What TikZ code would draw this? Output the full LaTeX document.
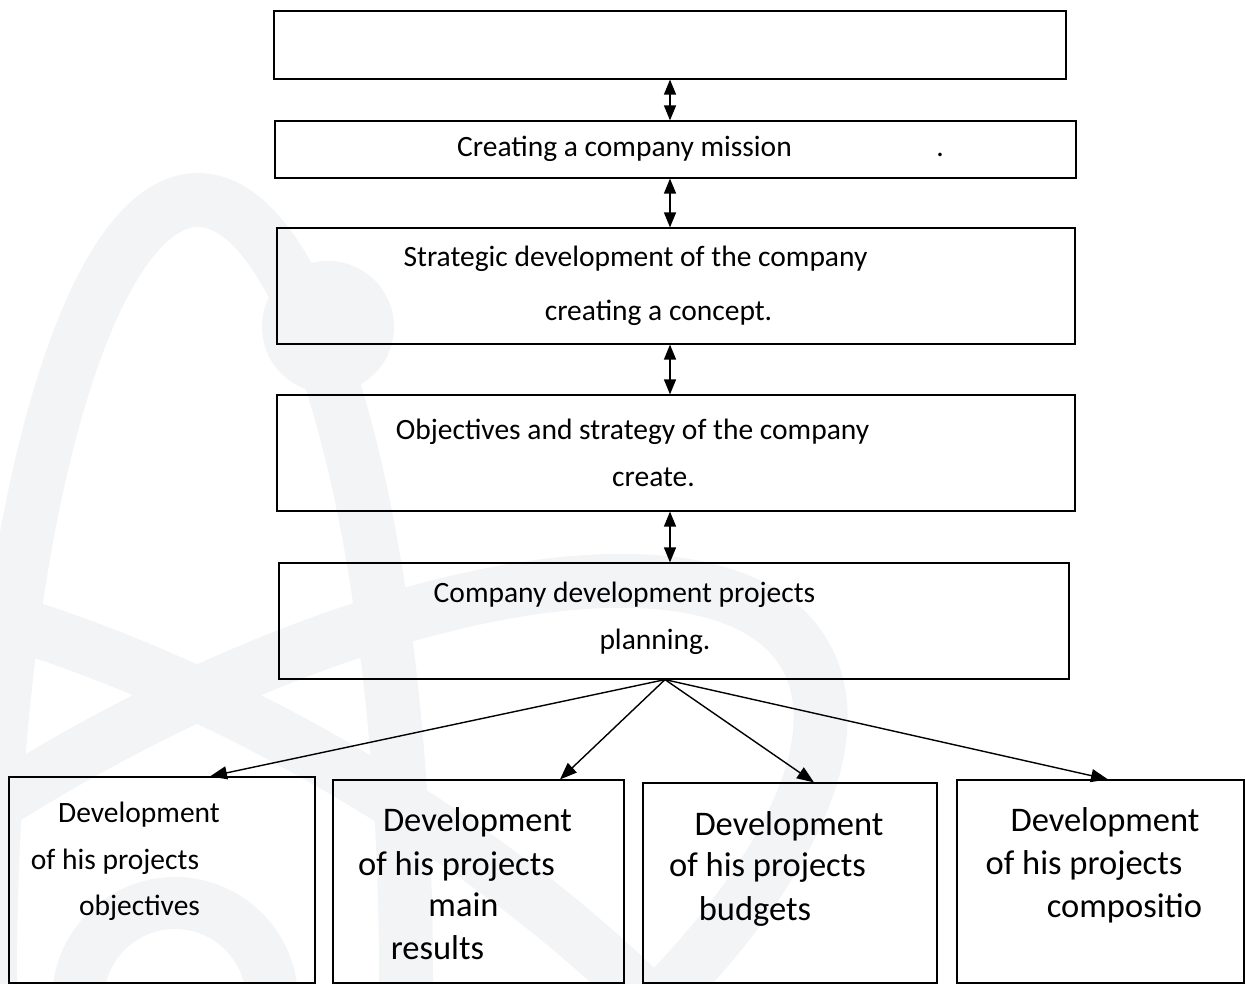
\documentclass[tikz,border=0pt]{standalone}
\usepackage{fontspec}
\setmainfont{Carlito}
\usetikzlibrary{arrows.meta}
\definecolor{wmark}{RGB}{243,244,246}
\begin{document}
\begin{tikzpicture}[x=1pt,y=-1pt,
  box/.style={draw=black, line width=1.2pt, rectangle, inner sep=0pt},
  txt/.style={anchor=base, inner sep=0pt, font=\fontsize{29.5}{35}\selectfont},
  btxt/.style={anchor=base, inner sep=0pt, font=\fontsize{34.5}{40}\selectfont},
  dbl/.style={line width=1.5pt, {Triangle[length=15pt,width=12pt]}-{Triangle[length=15pt,width=12pt]}},
  fanarr/.style={line width=1.4pt, -{Triangle[length=17pt,width=13pt]}},
  wm/.style={draw=wmark, line width=54pt}]
\useasboundingbox (0,0) rectangle (1245,984);
% faint watermark
\begin{scope}
\clip (0,0) rectangle (1245,984);
\draw[wm] (198,977) ellipse [x radius=208pt, y radius=777pt];
\draw[wm, rotate around={30:(197,1006)}] (197,1006) ellipse [x radius=702pt, y radius=277pt];
\draw[wm, rotate around={-30:(197,1006)}] (197,1006) ellipse [x radius=702pt, y radius=277pt];
\draw[wm, line width=52pt] (175,1000) circle [radius=97pt];
\fill[wmark] (328,327) circle [radius=66pt];
\end{scope}
% boxes
\node[box, minimum width=792pt, minimum height=68pt] (top) at (670,45) {};
\node[box, minimum width=801pt, minimum height=57pt] (mission) at (675.5,149.5) {};
\node[box, minimum width=798pt, minimum height=116pt] (strat) at (676,286) {};
\node[box, minimum width=798pt, minimum height=116pt] (obj) at (676,453) {};
\node[box, minimum width=790pt, minimum height=116pt] (plan) at (674,621) {};
\node[box, minimum width=306pt, minimum height=206pt] (b1) at (162,880) {};
\node[box, minimum width=291pt, minimum height=203pt] (b2) at (478.5,881.5) {};
\node[box, minimum width=294pt, minimum height=200pt] (b3) at (790,883) {};
\node[box, minimum width=287pt, minimum height=203pt] (b4) at (1100.5,881.5) {};
% texts
\node[txt] (t1) at (624.5,157) {Creating a company mission};
\node[txt] (t1d) at (940,157) {.};
\node[txt] (t2a) at (635.5,267) {Strategic development of the company};
\node[txt] (t2b) at (658.5,320) {creating a concept.};
\node[txt] (t3a) at (632.5,439) {Objectives and strategy of the company};
\node[txt] (t3b) at (653.5,486) {create.};
\node[txt] (t4a) at (624.5,602) {Company development projects};
\node[txt] (t4b) at (655,649) {planning.};
\node[txt] (b1a) at (139,822) {Development};
\node[txt] (b1b) at (115,869) {of his projects};
\node[txt] (b1c) at (139.5,915) {objectives};
\node[btxt] (b2a) at (477.5,831) {Development};
\node[btxt] (b2b) at (456.5,875) {of his projects};
\node[btxt] (b2c) at (463.5,916) {main};
\node[btxt] (b2d) at (437.5,959) {results};
\node[btxt] (b3a) at (789,835) {Development};
\node[btxt] (b3b) at (767.5,876) {of his projects};
\node[btxt] (b3c) at (755,920) {budgets};
\node[btxt] (b4a) at (1105,831) {Development};
\node[btxt] (b4b) at (1084,874) {of his projects};
\node[btxt] (b4c) at (1124.5,917) {compositio};
% vertical double arrows
\coordinate (ax) at (670,0);
\draw[dbl] (top.south -| ax) -- (mission.north -| ax);
\draw[dbl] (mission.south -| ax) -- (strat.north -| ax);
\draw[dbl] (strat.south -| ax) -- (obj.north -| ax);
\draw[dbl] (obj.south -| ax) -- (plan.north -| ax);
% fan arrows
\coordinate (fx) at (665,0);
\coordinate (p1) at (210,0);
\coordinate (p2) at (560,0);
\coordinate (p3) at (814,0);
\coordinate (p4) at (1108,0);
\draw[fanarr] (plan.south -| fx) -- (b1.north -| p1);
\draw[fanarr] (plan.south -| fx) -- (b2.north -| p2);
\draw[fanarr] (plan.south -| fx) -- (b3.north -| p3);
\draw[fanarr] (plan.south -| fx) -- (b4.north -| p4);
\end{tikzpicture}
\end{document}
